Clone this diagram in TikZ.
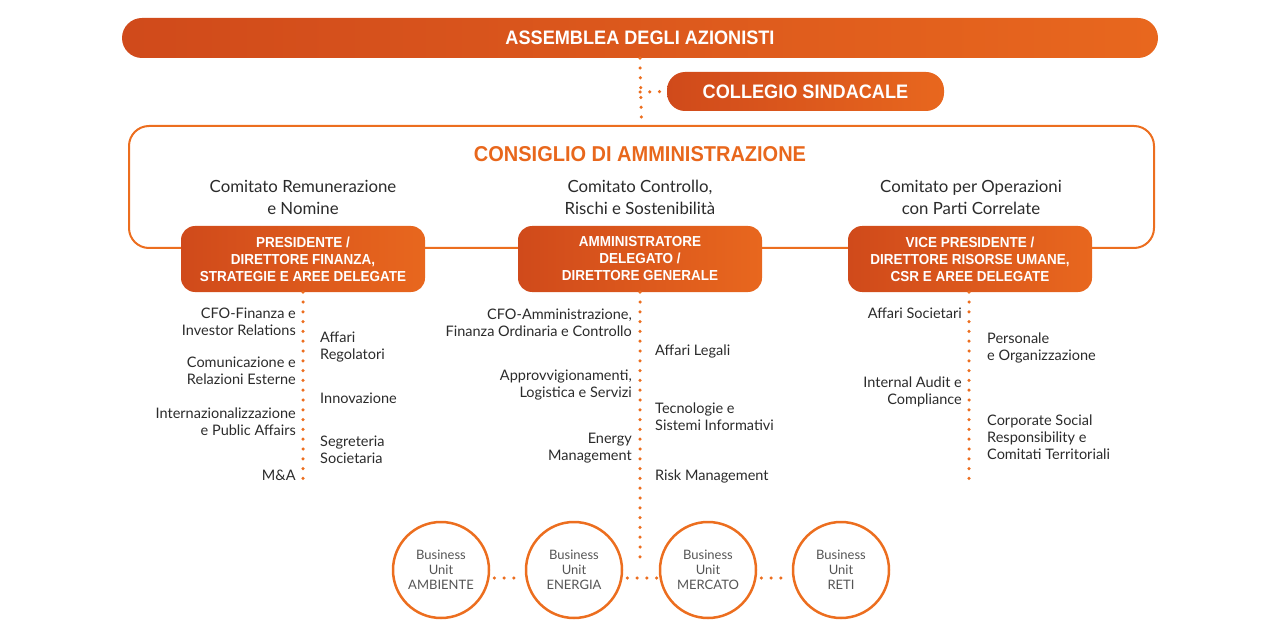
\documentclass[tikz,border=0pt]{standalone}
\usepackage{fontspec}
\setmainfont{Lato}
\newfontfamily\condb[FakeStretch=0.93]{Liberation Sans}
\definecolor{ordark}{HTML}{D04A1B}
\definecolor{orlight}{HTML}{E8671E}
\definecolor{orline}{HTML}{EC6E1F}
\definecolor{ortitle}{HTML}{E8671C}
\definecolor{txt}{HTML}{2B2B2B}
\definecolor{grtxt}{HTML}{555555}
\tikzset{
  pill/.style={left color=ordark,right color=orlight,text=white,inner sep=0pt,
    font=\condb\bfseries\fontsize{19.5}{22}\selectfont},
  role/.style={left color=ordark,right color=orlight,text=white,rounded corners=14pt,
    minimum width=244pt,minimum height=66pt,align=center,inner sep=0pt,
    font=\condb\bfseries\fontsize{14.5}{17}\selectfont},
  dots/.style={orline,line width=3.5pt,line cap=round,dash pattern=on 0pt off 9.8pt},
  lbl/.style={font=\fontsize{14.5}{17}\selectfont,text=txt,inner sep=0pt},
  lblL/.style={lbl,anchor=east,align=right},
  lblR/.style={lbl,anchor=west,align=left},
  comm/.style={font=\fontsize{16.8}{22}\selectfont,text=txt,align=center,inner sep=0pt},
  bu/.style={circle,draw=orline,line width=2.5pt,minimum size=96pt,inner sep=0pt,
    align=center,text=grtxt,font=\fontsize{13}{15}\selectfont},
}
\begin{document}
\begin{tikzpicture}[x=1pt,y=-1pt]
\useasboundingbox (0,0) rectangle (1280,639);
% top
\node[pill,minimum width=1036pt,minimum height=40pt,rounded corners=20pt] (ass) at (640,38) {ASSEMBLEA DEGLI AZIONISTI};
\node[pill,minimum width=277pt,minimum height=39pt,rounded corners=18pt] (col) at (805.5,91.5) {COLLEGIO SINDACALE};
% consiglio
\node[draw=orline,line width=2pt,rounded corners=20pt,minimum width=1025pt,minimum height=122pt] (cda) at (641.5,187) {};
\coordinate (j) at (640,92);
\draw[dots] (ass.south) -- (cda.north);
\draw[dots] (j) -- (col.west);
\node[font=\condb\bfseries\fontsize{21.5}{26}\selectfont,text=ortitle] (cdat) at (640,154) {CONSIGLIO DI AMMINISTRAZIONE};
\node[comm] (cm1) at (303,197) {Comitato Remunerazione\\e Nomine};
\node[comm] (cm2) at (640,197) {Comitato Controllo,\\Rischi e Sostenibilità};
\node[comm] (cm3) at (971,197) {Comitato per Operazioni\\con Parti Correlate};
% roles
\node[role] (b1) at (303,259) {PRESIDENTE /\\DIRETTORE FINANZA,\\STRATEGIE E AREE DELEGATE};
\node[role] (b2) at (640,259) {AMMINISTRATORE\\DELEGATO /\\DIRETTORE GENERALE};
\node[role] (b3) at (970,259) {VICE PRESIDENTE /\\DIRETTORE RISORSE UMANE,\\CSR E AREE DELEGATE};
% dotted verticals
\coordinate (e1) at (303,483);
\coordinate (e2) at (640,560);
\coordinate (e3) at (969,483);
\draw[dots] (b1.south) -- (e1);
\draw[dots] (b2.south) -- (e2);
\draw[dots] ([xshift=-1pt]b3.south) -- (e3);
% column 1
\node[lblL] (l11) at (296,321.5) {CFO-Finanza e\\Investor Relations};
\node[lblL] (l12) at (296,371) {Comunicazione e\\Relazioni Esterne};
\node[lblL] (l13) at (296,422) {Internazionalizzazione\\e Public Affairs};
\node[lblL] (l14) at (296,475) {M\&A};
\node[lblR] (r11) at (320,347.5) {Affari\\Regolatori};
\node[lblR] (r12) at (320,398) {Innovazione};
\node[lblR] (r13) at (320,450) {Segreteria\\Societaria};
% column 2
\node[lblL] (l21) at (632,322.5) {CFO-Amministrazione,\\Finanza Ordinaria e Controllo};
\node[lblL] (l22) at (632,385.5) {Approvvigionamenti,\\Logistica e Servizi};
\node[lblL] (l23) at (632,448.5) {Energy\\Management};
\node[lblR] (r21) at (655,351) {Affari Legali};
\node[lblR] (r22) at (655,416.5) {Tecnologie e\\Sistemi Informativi};
\node[lblR] (r23) at (655,476) {Risk Management};
% column 3
\node[lblL] (l31) at (962,313) {Affari Societari};
\node[lblL] (l32) at (962,391.5) {Internal Audit e\\Compliance};
\node[lblR] (r31) at (987,347.5) {Personale\\e Organizzazione};
\node[lblR] (r32) at (987,437) {Corporate Social\\Responsibility e\\Comitati Territoriali};
% business units
\node[bu] (c1) at (441,570) {Business\\Unit\\AMBIENTE};
\node[bu] (c2) at (574,570) {Business\\Unit\\ENERGIA};
\node[bu] (c3) at (708,570) {Business\\Unit\\MERCATO};
\node[bu] (c4) at (841,570) {Business\\Unit\\RETI};
\draw[dots,shorten <=4pt,shorten >=2pt] ([yshift=-8pt]c1.east) -- ([yshift=-8pt]c2.west);
\draw[dots,shorten <=4pt,shorten >=2pt] ([yshift=-8pt]c2.east) -- ([yshift=-8pt]c3.west);
\draw[dots,shorten <=4pt,shorten >=2pt] ([yshift=-8pt]c3.east) -- ([yshift=-8pt]c4.west);
\end{tikzpicture}
\end{document}
